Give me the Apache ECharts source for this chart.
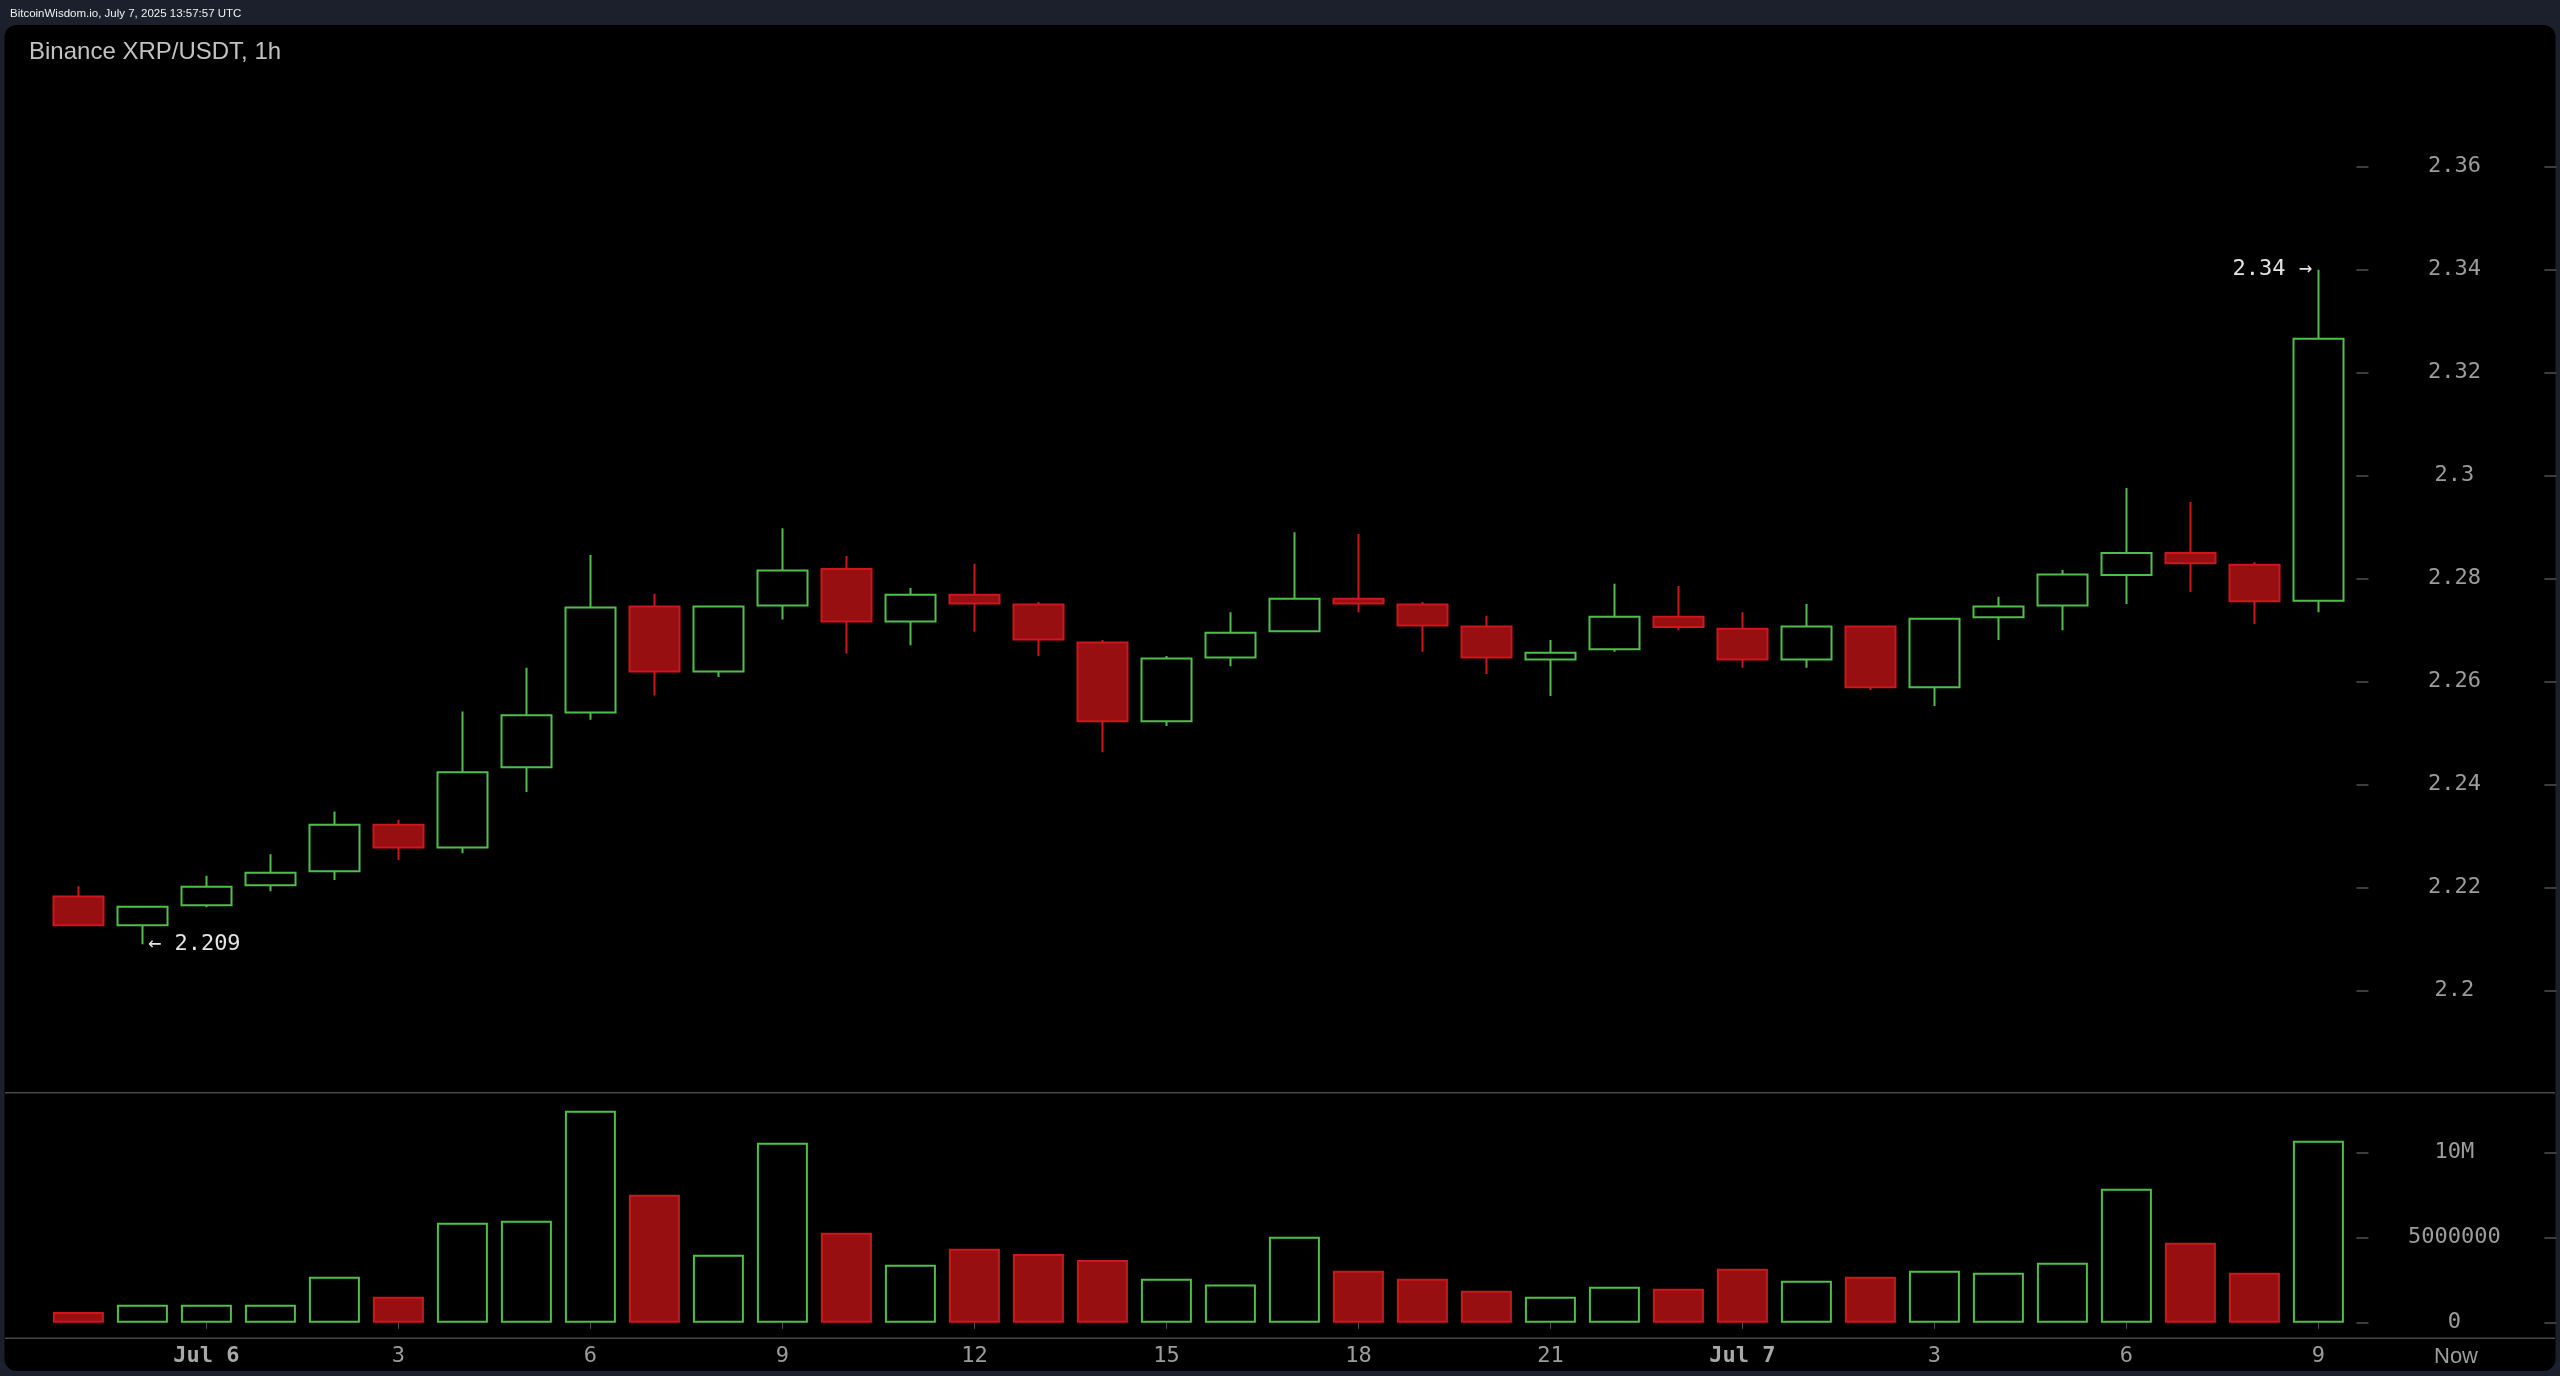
<!DOCTYPE html>
<html><head><meta charset="utf-8">
<script src="https://cdn.jsdelivr.net/npm/echarts@6/dist/echarts.min.js"></script>
<style>html,body{margin:0;padding:0;background:#1c202c;overflow:hidden;}#c{width:2560px;height:1376px;}</style>
</head><body><div id="c"></div>
<script>
// hourly candles, Jul 5 22:00 UTC -> Jul 7 09:00 UTC
const categories = ['22','23','Jul 6','1','2','3','4','5','6','7','8','9','10','11','12','13','14','15','16','17','18','19','20','21','22','23','Jul 7','1','2','3','4','5','6','7','8','9'];
const openP  = [2.2183,2.2127,2.2166,2.2205,2.2232,2.2322,2.2278,2.2434,2.2540,2.2746,2.2620,2.2748,2.2819,2.2717,2.2769,2.2750,2.2676,2.2523,2.2647,2.2698,2.2761,2.2750,2.2707,2.2643,2.2663,2.2726,2.2703,2.2643,2.2707,2.2589,2.2725,2.2748,2.2807,2.2850,2.2827,2.2757];
const closeP = [2.2127,2.2163,2.2202,2.2229,2.2322,2.2278,2.2424,2.2535,2.2744,2.2620,2.2746,2.2816,2.2717,2.2769,2.2752,2.2682,2.2523,2.2645,2.2695,2.2761,2.2752,2.2709,2.2647,2.2656,2.2726,2.2706,2.2643,2.2707,2.2589,2.2722,2.2746,2.2808,2.2850,2.2830,2.2756,2.3266];
const lowP   = [2.2125,2.2090,2.2162,2.2193,2.2215,2.2254,2.2267,2.2386,2.2526,2.2573,2.2609,2.2721,2.2655,2.2671,2.2697,2.2650,2.2463,2.2514,2.2630,2.2698,2.2735,2.2658,2.2615,2.2572,2.2658,2.2700,2.2627,2.2627,2.2584,2.2553,2.2681,2.2700,2.2751,2.2774,2.2712,2.2735];
const highP  = [2.2203,2.2163,2.2223,2.2265,2.2348,2.2332,2.2542,2.2627,2.2846,2.2771,2.2746,2.2898,2.2844,2.2782,2.2829,2.2755,2.2681,2.2650,2.2735,2.2890,2.2887,2.2755,2.2728,2.2681,2.2790,2.2786,2.2735,2.2751,2.2707,2.2722,2.2765,2.2817,2.2976,2.2949,2.2832,2.3400];
const volume = [0.63e6,1.06e6,1.06e6,1.06e6,2.71e6,1.53e6,5.88e6,6.0e6,12.47e6,7.53e6,4.0e6,10.59e6,5.29e6,3.41e6,4.35e6,4.04e6,3.69e6,2.59e6,2.24e6,5.06e6,3.06e6,2.59e6,1.88e6,1.53e6,2.12e6,2.0e6,3.18e6,2.47e6,2.71e6,3.06e6,2.94e6,3.53e6,7.88e6,4.71e6,2.94e6,10.71e6];
const priceTicks = [2.2,2.22,2.24,2.26,2.28,2.3,2.32,2.34,2.36];
const volTicks = [0,5e6,10e6];
const volTickLabels = ['0','5000000','10M'];

const GREEN = '#4fbf4a', RED_FILL = '#980f12', RED_LINE = '#cc171c';
const MONO = '"DejaVu Sans Mono", monospace';
const SANS = '"Liberation Sans", Arial, Helvetica, sans-serif';
const LABEL_GRAY = '#9c9c9c', TICK_GRAY = '#505050';

const candleData = openP.map((o,i)=>[o, closeP[i], lowP[i], highP[i]]);
const volData = volume.map((v,i)=>{
  const up = closeP[i] >= openP[i];
  return {value: v, itemStyle: {color: up ? 'rgba(0,0,0,0)' : RED_FILL, borderColor: up ? GREEN : RED_LINE, borderWidth: 2}};
});
const showIdx = (idx) => (idx - 2) % 3 === 0;

const chart = echarts.init(document.getElementById('c'), null, {renderer:'canvas'});
chart.setOption({
  animation: false,
  backgroundColor: '#1c202c',
  graphic: [
    {type:'rect', z:-10, shape:{x:4.5, y:25, width:2551, height:1346, r:12}, style:{fill:'#000000'}},
    {type:'text', x:10, y:14, style:{text:'BitcoinWisdom.io, July 7, 2025 13:57:57 UTC', fill:'#f0f0f0', font:'11.5px "Liberation Sans", Arial, sans-serif', verticalAlign:'middle'}},
    {type:'text', x:29, y:52, style:{text:'Binance XRP/USDT, 1h', fill:'#c2c2c2', font:'24px "Liberation Sans", Arial, sans-serif', verticalAlign:'middle'}},
    {type:'line', shape:{x1:5, y1:1092.7, x2:2555, y2:1092.7}, style:{stroke:'#474747', lineWidth:1.5}},
    {type:'line', shape:{x1:5, y1:1338.3, x2:2555, y2:1338.3}, style:{stroke:'#474747', lineWidth:1.5}},
    {type:'text', x:2456, y:1357, style:{text:'Now', fill:LABEL_GRAY, font:'22px '+SANS, align:'center', verticalAlign:'middle'}}
  ],
  grid: [
    {left:46.4, top:63.7, width:2304, height:1030},
    {left:46.4, top:1093.2, width:2304, height:229.5}
  ],
  xAxis: [
    {type:'category', gridIndex:0, data:categories, boundaryGap:true, axisLine:{show:false}, axisTick:{show:false}, axisLabel:{show:false}, splitLine:{show:false}},
    {type:'category', gridIndex:1, data:categories, boundaryGap:true, offset:15.6,
     axisLine:{show:false},
     axisTick:{show:true, alignWithLabel:true, interval:(idx)=>showIdx(idx), length:6, lineStyle:{color:'#555555', width:1}},
     axisLabel:{show:true, interval:(idx)=>showIdx(idx), margin:7, color:LABEL_GRAY, fontFamily:MONO, fontSize:22,
       formatter:(v)=> v.indexOf('Jul')===0 ? '{b|'+v+'}' : v,
       rich:{b:{fontFamily:MONO, fontSize:22, fontWeight:'bold', color:'#a8a8a8'}}},
     splitLine:{show:false}}
  ],
  yAxis: [
    {type:'value', gridIndex:0, position:'right', offset:6, min:2.18, max:2.38, interval:0.02, scale:true,
     axisLine:{show:false}, splitLine:{show:false},
     axisTick:{show:true, length:12, customValues:priceTicks, lineStyle:{color:TICK_GRAY, width:1.5}},
     axisLabel:{show:true, customValues:priceTicks, align:'center', margin:98, color:LABEL_GRAY, fontFamily:MONO, fontSize:22}},
    {type:'value', gridIndex:0, position:'right', offset:194, min:2.18, max:2.38, interval:0.02, scale:true,
     axisLine:{show:false}, splitLine:{show:false},
     axisTick:{show:true, length:12, customValues:priceTicks, lineStyle:{color:TICK_GRAY, width:1.5}},
     axisLabel:{show:false}},
    {type:'value', gridIndex:1, position:'right', offset:6, min:0, max:13.5e6,
     axisLine:{show:false}, splitLine:{show:false},
     axisTick:{show:true, length:12, customValues:volTicks, lineStyle:{color:TICK_GRAY, width:1.5}},
     axisLabel:{show:true, customValues:volTicks, align:'center', margin:98, color:LABEL_GRAY, fontFamily:MONO, fontSize:22,
       formatter:(v)=>{const k=volTicks.indexOf(v); return k>=0?volTickLabels[k]:'';}}},
    {type:'value', gridIndex:1, position:'right', offset:194, min:0, max:13.5e6,
     axisLine:{show:false}, splitLine:{show:false},
     axisTick:{show:true, length:12, customValues:volTicks, lineStyle:{color:TICK_GRAY, width:1.5}},
     axisLabel:{show:false}}
  ],
  series: [
    {type:'candlestick', xAxisIndex:0, yAxisIndex:0, data:candleData, barWidth:50,
     itemStyle:{color:'rgba(0,0,0,0)', color0:RED_FILL, borderColor:GREEN, borderColor0:RED_LINE, borderWidth:2},
     markPoint:{
       symbol:'rect', symbolSize:1, itemStyle:{color:'rgba(0,0,0,0)'}, silent:true,
       data:[
         {type:'max', valueDim:'highest', label:{show:true, position:'left', distance:6, formatter:(p)=>p.value+' →', color:'#e4e4e4', fontFamily:MONO, fontSize:22}},
         {type:'min', valueDim:'lowest', label:{show:true, position:'right', distance:5, formatter:(p)=>'← '+p.value, color:'#e4e4e4', fontFamily:MONO, fontSize:22}}
       ]
     }},
    {type:'bar', xAxisIndex:1, yAxisIndex:2, data:volData, barWidth:51}
  ]
});
</script>
</body></html>
